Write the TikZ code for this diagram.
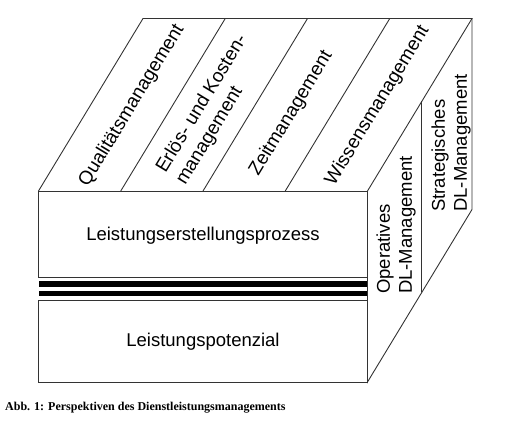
\documentclass[tikz,border=0pt]{standalone}
\usepackage{fontspec}
\setmainfont{Liberation Sans}
\newfontfamily\capfont{Liberation Serif}

\begin{document}
\begin{tikzpicture}[x=1pt, y=-1pt,
    edge/.style={line width=0.9pt, black!80},
    bar/.style={fill=black},
    facelabel/.style={font=\fontsize{18.5}{22}\selectfont, inner sep=0pt},
    toplabel/.style={font=\fontsize{19}{23}\selectfont, inner sep=0pt, rotate=58.8, align=left},
    sidelabel/.style={facelabel, rotate=90, align=left, anchor=west}]
    \useasboundingbox (0, 0) rectangle (518, 420);
    % front face
    \draw [edge] (38.5, 191) rectangle (367.5, 277.5);
    \draw [edge] (38.5, 300) rectangle (367.5, 382);
    \fill [bar] (38.5, 281) rectangle (367.5, 286.5);
    \fill [bar] (38.5, 290.5) rectangle (367.5, 295.5);
    \node [facelabel] (prozess) at (203, 236) {Leistungserstellungsprozess};
    \node [facelabel] (potenzial) at (203, 342) {Leistungspotenzial};
    % top face
    \draw [edge] (38.5, 191) -- (143, 18.5) -- (472, 18.5) -- (367.5, 191);
    \draw [edge] (120.75, 191) -- (225.25, 18.5);
    \draw [edge] (203, 191) -- (307.5, 18.5);
    \draw [edge] (285.25, 191) -- (389.75, 18.5);
    \node [toplabel] (qualitaet) at (131.9, 105.5) {Qualitätsmanagement};
    \node [toplabel] (erloes) at (212, 110) {Erlös- und Kosten-\\management};
    \node [toplabel] (zeit) at (291.2, 113.3) {Zeitmanagement};
    \node [toplabel] (wissen) at (377.5, 105.5) {Wissensmanagement};
    % right face
    \draw [edge] (472, 18.5) -- (472, 209.5) -- (367.5, 382) -- (367.5, 191);
    \draw [edge] (421.8, 101.3) -- (421.8, 292.3);
    \node [sidelabel] (operativ) at (396, 294) {Operatives\\DL-Management};
    \node [sidelabel] (strategisch) at (451, 212) {Strategisches\\DL-Management};
    % caption
    \node [anchor=west, inner sep=0pt, font=\capfont\bfseries\fontsize{12}{14}\selectfont] (caption) at (5, 408) {Abb. 1: Perspektiven des Dienstleistungsmanagements};
\end{tikzpicture}
\end{document}
